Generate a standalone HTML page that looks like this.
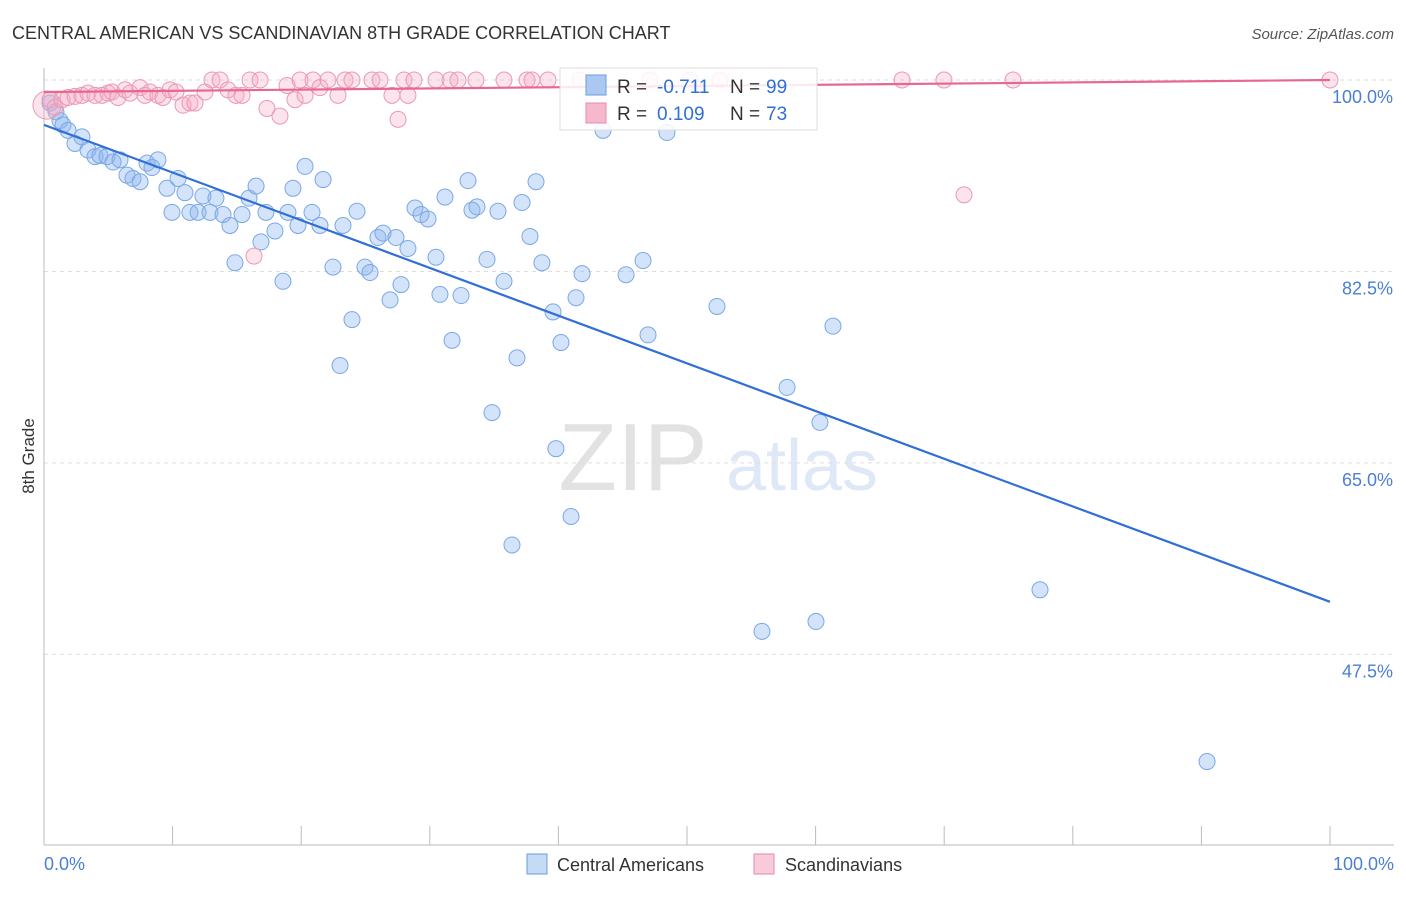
<!DOCTYPE html>
<html><head><meta charset="utf-8"><style>
body{margin:0;background:#fff;font-family:"Liberation Sans",sans-serif}
svg text{font-family:"Liberation Sans",sans-serif}
</style></head><body>
<svg id="c" width="1406" height="892" viewBox="0 0 1406 892" xmlns="http://www.w3.org/2000/svg">
<text x="12" y="39" font-size="18" fill="#333">CENTRAL AMERICAN VS SCANDINAVIAN 8TH GRADE CORRELATION CHART</text>
<text x="1394" y="39" font-size="15" fill="#555" text-anchor="end" font-style="italic">Source: ZipAtlas.com</text>
<text transform="translate(34,456) rotate(-90)" font-size="17" fill="#333" text-anchor="middle">8th Grade</text>
<g><text x="633" y="490" font-size="96" fill="#e2e2e2" text-anchor="middle" font-family="Liberation Serif">ZIP</text><text x="802" y="490" font-size="72" fill="#dfe8f6" text-anchor="middle">atlas</text></g>
<g id="grid"></g><g id="axes"></g><g id="pts"></g><g id="lines"></g>
<g>
<rect x="560" y="68" width="257" height="62" fill="#fff" fill-opacity="0.85" stroke="#ddd"/>
<rect x="586" y="75" width="20" height="20" fill="#aac8f0" stroke="#6b9ee0"/>
<text x="617" y="93" font-size="19" fill="#333">R =</text><text x="657" y="93" font-size="19" fill="#2f6fd6">-0.711</text><text x="730" y="93" font-size="19" fill="#333">N =</text><text x="766" y="93" font-size="19" fill="#2f6fd6">99</text>
<rect x="586" y="103" width="20" height="20" fill="#f5b8cc" stroke="#e88aa8"/>
<text x="617" y="120" font-size="19" fill="#333">R =</text><text x="657" y="120" font-size="19" fill="#2f6fd6">0.109</text><text x="730" y="120" font-size="19" fill="#333">N =</text><text x="766" y="120" font-size="19" fill="#2f6fd6">73</text>
</g>
<g>
<rect x="527" y="854" width="20" height="20" fill="#c5daf5" stroke="#6b9ee0"/>
<text x="557" y="871" font-size="18" fill="#333">Central Americans</text>
<rect x="754" y="854" width="20" height="20" fill="#f9cad9" stroke="#e88aa8"/>
<text x="785" y="871" font-size="18" fill="#333">Scandinavians</text>
</g>
</svg>
<script>
const blueX=[0.47,0.93,1.24,1.48,1.87,2.41,2.95,3.42,3.97,4.35,4.9,5.37,5.91,6.45,6.92,7.47,8.01,8.4,8.86,9.56,9.95,10.42,10.96,11.35,11.98,12.36,12.91,13.37,13.92,14.46,14.85,15.4,15.94,16.49,16.87,17.26,17.96,18.58,18.97,19.36,19.75,20.3,20.84,21.46,21.7,22.47,23.25,23.02,23.95,24.34,24.96,25.35,25.97,26.36,26.91,27.37,27.76,28.3,28.85,29.32,29.86,30.48,30.79,31.18,31.73,32.43,32.97,33.28,33.67,34.45,34.84,35.3,35.77,36.39,36.78,37.17,37.79,38.26,38.72,39.58,39.81,40.2,40.98,41.37,41.84,43.47,45.26,46.58,46.97,48.44,52.33,55.83,57.78,60.03,60.34,61.35,77.45,90.44];
const blueY=[97.9,97.1,96.3,95.9,95.4,94.2,94.8,93.6,93.0,93.1,93.0,92.5,92.7,91.3,91.0,90.7,92.4,92.0,92.7,90.1,87.9,91.0,89.7,87.9,87.9,89.4,87.9,89.2,87.7,86.7,83.3,87.7,89.2,90.3,85.2,87.9,86.2,81.6,87.9,90.1,86.7,92.1,87.9,86.7,90.9,82.9,86.7,73.9,78.1,88.0,82.9,82.4,85.6,86.0,79.9,85.6,81.3,84.6,88.3,87.7,87.3,83.8,80.4,89.3,76.2,80.3,90.8,88.1,88.4,83.6,69.6,88.0,81.6,57.5,74.6,88.8,85.7,90.7,83.3,78.8,66.3,76.0,60.1,80.1,82.3,95.4,82.2,83.5,76.7,95.2,79.3,49.6,71.9,50.5,68.7,77.5,53.4,37.7];
const pinkX=[0.23,0.47,0.86,1.4,1.87,2.41,2.95,3.42,3.97,4.51,4.98,5.29,5.75,6.3,6.69,7.47,7.85,8.24,8.86,9.25,9.8,10.26,10.81,11.35,11.74,12.52,13.06,13.69,14.31,14.93,15.4,16.02,16.8,17.34,18.35,18.9,19.52,19.91,20.3,20.92,21.46,22.08,22.86,23.41,23.95,25.5,26.13,27.06,27.53,27.99,28.3,28.77,30.48,31.57,32.19,33.59,35.77,37.56,37.95,39.19,41.68,47.12,50.23,52.57,66.72,69.98,71.54,75.35,100,16.33];
const pinkY=[97.7,98.2,97.5,98.2,98.4,98.5,98.6,98.8,98.6,98.6,98.8,98.9,98.4,99.1,98.8,99.3,98.6,98.9,98.6,98.4,99.1,98.9,97.7,97.9,97.9,98.9,100,100,99.1,98.6,98.6,100,100,97.4,96.7,99.5,98.2,100,98.6,100,99.3,100,98.6,100,100,100,100,98.6,96.4,100,98.6,100,100,100,100,100,100,100,100,100,100,100,100,100,100,100,89.5,100,100,83.9];
const blueLine=[[0,95.9],[100,52.3]];
const pinkLine=[[0,98.9],[100,100]];
const yTicks=[100,82.5,65,47.5];
const yTickLabels=["100.0%","82.5%","65.0%","47.5%"];
const xTickLabels=["0.0%","100.0%"];
const NS="http://www.w3.org/2000/svg";
const sx=v=>44+v*12.86;
const sy=v=>80+(100-v)*10.94;
function mk(tag,attrs,parent){const e=document.createElementNS(NS,tag);for(const k in attrs)e.setAttribute(k,attrs[k]);document.getElementById(parent).appendChild(e);return e;}
yTicks.forEach((t,i)=>{
 const l=mk('line',{x1:44,x2:1394,y1:sy(t),y2:sy(t),stroke:'#ddd','stroke-dasharray':'4,4'},'grid');
 
 
 const tx=mk('text',{x:1393,y:sy(t)+23,'font-size':18,fill:'#4a7fd4','text-anchor':'end'},'grid');
 tx.textContent=yTickLabels[i];
 
 
});
let ax=mk('line',{x1:44,x2:44,y1:68,y2:845,stroke:'#bbb'},'axes');


let bx=mk('line',{x1:44,x2:1394,y1:845,y2:845,stroke:'#bbb'},'axes');


for(let i=0;i<=10;i++){const t=mk('line',{x1:sx(i*10),x2:sx(i*10),y1:826,y2:845,stroke:'#bbb'},'axes');
 
 }
[[0,'start',44],[100,'end',1394]].forEach((a,i)=>{const t=mk('text',{x:a[2],y:870,'font-size':18,fill:'#4a7fd4','text-anchor':a[1]},'axes');t.textContent=xTickLabels[i];
 
 });
blueX.forEach((x,i)=>{const c=mk('circle',{cx:sx(x),cy:sy(blueY[i]),r:8,fill:'rgba(140,182,238,0.38)',stroke:'#7aa8e6','stroke-width':1},'pts');
 
 });
pinkX.forEach((x,i)=>{const c=mk('circle',{cx:sx(x),cy:sy(pinkY[i]),r:i==0?14:8,fill:'rgba(245,170,198,0.32)',stroke:'#eb98b3','stroke-width':1},'pts');
 
 });
const bl=mk('line',{x1:sx(blueLine[0][0]),y1:sy(blueLine[0][1]),x2:sx(blueLine[1][0]),y2:sy(blueLine[1][1]),stroke:'#2f6fd6','stroke-width':2.2},'lines');


const pl=mk('line',{x1:sx(pinkLine[0][0]),y1:sy(pinkLine[0][1]),x2:sx(pinkLine[1][0]),y2:sy(pinkLine[1][1]),stroke:'#e8678f','stroke-width':2.2},'lines');


</script>
</body></html>
